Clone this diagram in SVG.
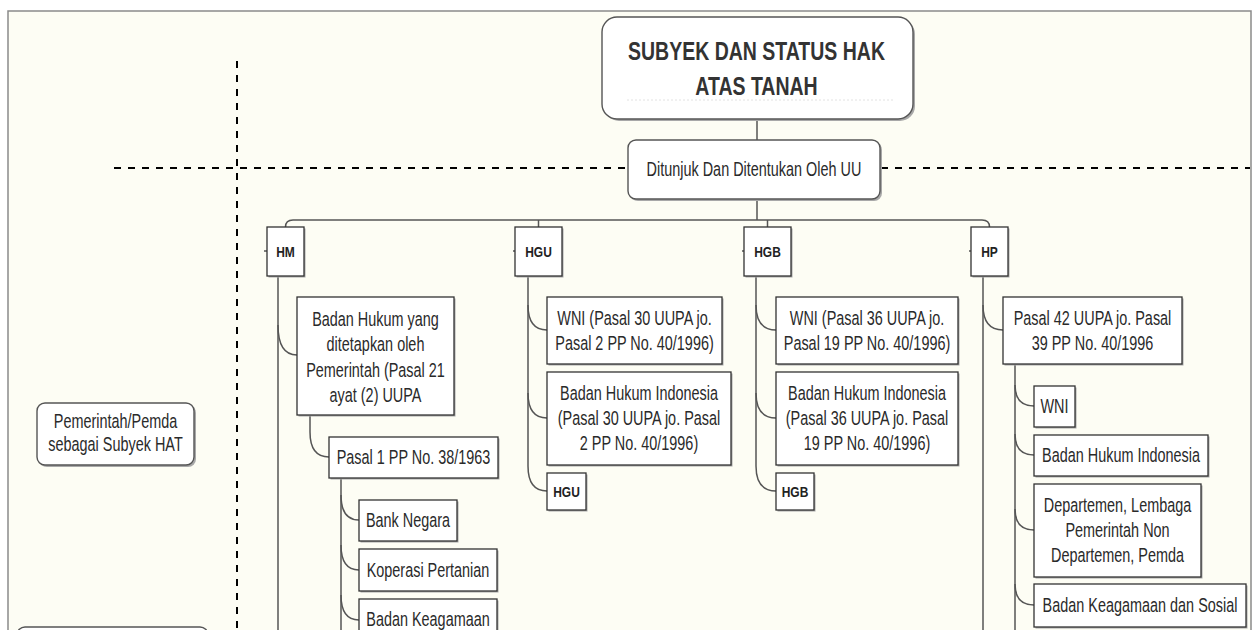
<svg xmlns="http://www.w3.org/2000/svg" width="1256" height="630" viewBox="0 0 1256 630">
<style>
.bg{fill:#FDFDF4;stroke:#8a8a8a;stroke-width:1.5}
.box{fill:#fff;stroke:#333;stroke-width:1.3}
.sh{fill:#a8a8a8;stroke:none}
.rbox{fill:#fff;stroke:#555;stroke-width:1.4}
.c{fill:none;stroke:#555;stroke-width:1.5}
.dash{fill:none;stroke:#000;stroke-width:2;stroke-dasharray:7 7}
.t{font-family:"Liberation Sans",Arial,sans-serif;font-size:19.5px;fill:#2a2a2a;text-anchor:middle}
.b{font-family:"Liberation Sans",Arial,sans-serif;font-size:15px;font-weight:bold;fill:#222;text-anchor:middle}
.h{font-family:"Liberation Sans",Arial,sans-serif;font-size:25px;font-weight:bold;fill:#333;text-anchor:middle}
</style>
<rect x="0" y="0" width="1256" height="630" fill="#fff"/>
<rect class="bg" x="8" y="11" width="1243" height="640"/>

<g id="dashed-lines">
<path class="dash" d="M237 61 V630"/>
<path class="dash" d="M114 168 H628"/>
<path class="dash" d="M881 168 H1250"/>
</g>

<g id="connectors">
<path class="c" d="M757 119 V140"/>
<path class="c" d="M757 199 V220"/>
<path class="c" d="M285.5 227 Q285.5 220 293 220 H982 Q989.5 220 989.5 227"/>
<path class="c" d="M538.5 220 V227"/>
<path class="c" d="M767.5 220 V227"/>
<path class="c" d="M264 251 H267 M513 251 H515 M742 251 H744 M969 251 H971"/>
<path class="c" d="M278 276 V630"/>
<path class="c" d="M278 325 Q278 355 297 355"/>
<path class="c" d="M310 415 V432 Q310 457 329 457"/>
<path class="c" d="M341 478 V630"/>
<path class="c" d="M341 495 Q341 520 359 520"/>
<path class="c" d="M341 545 Q341 570 359 570"/>
<path class="c" d="M341 595 Q341 620 359 620"/>
<path class="c" d="M528 276 V466 Q528 491 547 491"/>
<path class="c" d="M528 305 Q528 330 547 330"/>
<path class="c" d="M528 393 Q528 418 547 418"/>
<path class="c" d="M756 276 V466 Q756 491 776 491"/>
<path class="c" d="M756 305 Q756 330 776 330"/>
<path class="c" d="M756 393 Q756 418 776 418"/>
<path class="c" d="M983 276 V630"/>
<path class="c" d="M983 305 Q983 330 1003 330"/>
<path class="c" d="M1015 364 V630"/>
<path class="c" d="M1015 385 Q1015 406 1034 406"/>
<path class="c" d="M1015 434 Q1015 455 1034 455"/>
<path class="c" d="M1015 509 Q1015 530 1034 530"/>
<path class="c" d="M1015 584 Q1015 605 1034 605"/>
</g>

<g id="title">
<rect class="sh" x="604" y="19" width="311" height="102" rx="15"/>
<rect class="rbox" x="602" y="17" width="311" height="102" rx="15"/>
<path d="M627 100 H893" stroke="#e2e2e2" stroke-width="1" stroke-dasharray="2 2"/>
<text class="h" transform="translate(756.5 0) scale(0.78 1)"><tspan x="0" y="60">SUBYEK DAN STATUS HAK</tspan><tspan x="0" y="95">ATAS TANAH</tspan></text>
</g>

<g id="ditunjuk">
<rect class="sh" x="630" y="142" width="252" height="59" rx="8"/>
<rect class="rbox" x="628" y="140" width="252" height="59" rx="8"/>
<text class="t" transform="translate(754 0) scale(0.74 1)"><tspan x="0" y="176">Ditunjuk Dan Ditentukan Oleh UU</tspan></text>
</g>

<g id="pemerintah">
<rect class="sh" x="39" y="405" width="157" height="62" rx="8"/>
<rect class="rbox" x="37" y="403" width="157" height="62" rx="8"/>
<text class="t" transform="translate(115.5 0) scale(0.74 1)"><tspan x="0" y="428">Pemerintah/Pemda</tspan><tspan x="0" y="451">sebagai Subyek HAT</tspan></text>
</g>

<g id="bottom-left">
<rect class="sh" x="19" y="629" width="191" height="40" rx="8"/>
<rect class="rbox" x="17" y="627" width="191" height="40" rx="8"/>
</g>

<g id="hm">
<rect class="sh" x="268.5" y="228.5" width="37" height="49"/>
<rect class="box" x="267" y="227" width="37" height="49"/>
<text class="b" transform="translate(285.5 0) scale(0.8 1)"><tspan x="0" y="257">HM</tspan></text>
</g>
<g id="hm-badan-hukum">
<rect class="sh" x="298.5" y="298.5" width="157" height="118"/>
<rect class="box" x="297" y="297" width="157" height="118"/>
<text class="t" transform="translate(375.5 0) scale(0.74 1)"><tspan x="0" y="326">Badan Hukum yang</tspan><tspan x="0" y="351">ditetapkan oleh</tspan><tspan x="0" y="377">Pemerintah (Pasal 21</tspan><tspan x="0" y="402">ayat (2) UUPA</tspan></text>
</g>
<g id="hm-pasal1">
<rect class="sh" x="330.5" y="438.5" width="169" height="41"/>
<rect class="box" x="329" y="437" width="169" height="41"/>
<text class="t" transform="translate(413.5 0) scale(0.74 1)"><tspan x="0" y="464">Pasal 1 PP No. 38/1963</tspan></text>
</g>
<g id="hm-bank-negara">
<rect class="sh" x="360.5" y="501.5" width="98" height="41"/>
<rect class="box" x="359" y="500" width="98" height="41"/>
<text class="t" transform="translate(408 0) scale(0.74 1)"><tspan x="0" y="527">Bank Negara</tspan></text>
</g>
<g id="hm-koperasi">
<rect class="sh" x="360.5" y="550.5" width="138" height="42"/>
<rect class="box" x="359" y="549" width="138" height="42"/>
<text class="t" transform="translate(428 0) scale(0.74 1)"><tspan x="0" y="577">Koperasi Pertanian</tspan></text>
</g>
<g id="hm-badan-keagamaan">
<rect class="sh" x="360.5" y="600.5" width="138" height="42"/>
<rect class="box" x="359" y="599" width="138" height="42"/>
<text class="t" transform="translate(428 0) scale(0.74 1)"><tspan x="0" y="626">Badan Keagamaan</tspan></text>
</g>

<g id="hgu">
<rect class="sh" x="516.5" y="228.5" width="47" height="49"/>
<rect class="box" x="515" y="227" width="47" height="49"/>
<text class="b" transform="translate(538.5 0) scale(0.8 1)"><tspan x="0" y="257">HGU</tspan></text>
</g>
<g id="hgu-wni">
<rect class="sh" x="548.5" y="298.5" width="175" height="67"/>
<rect class="box" x="547" y="297" width="175" height="67"/>
<text class="t" transform="translate(634.5 0) scale(0.74 1)"><tspan x="0" y="325">WNI (Pasal 30 UUPA jo.</tspan><tspan x="0" y="350">Pasal 2 PP No. 40/1996)</tspan></text>
</g>
<g id="hgu-badan-hukum">
<rect class="sh" x="548.5" y="373.5" width="184" height="93"/>
<rect class="box" x="547" y="372" width="184" height="93"/>
<text class="t" transform="translate(639 0) scale(0.74 1)"><tspan x="0" y="400">Badan Hukum Indonesia</tspan><tspan x="0" y="425">(Pasal 30 UUPA jo. Pasal</tspan><tspan x="0" y="450">2 PP No. 40/1996)</tspan></text>
</g>
<g id="hgu-small">
<rect class="sh" x="548.5" y="474.5" width="39" height="37"/>
<rect class="box" x="547" y="473" width="39" height="37"/>
<text class="b" transform="translate(566.5 0) scale(0.8 1)"><tspan x="0" y="497">HGU</tspan></text>
</g>

<g id="hgb">
<rect class="sh" x="745.5" y="228.5" width="47" height="49"/>
<rect class="box" x="744" y="227" width="47" height="49"/>
<text class="b" transform="translate(767.5 0) scale(0.8 1)"><tspan x="0" y="257">HGB</tspan></text>
</g>
<g id="hgb-wni">
<rect class="sh" x="777.5" y="298.5" width="182" height="67"/>
<rect class="box" x="776" y="297" width="182" height="67"/>
<text class="t" transform="translate(867 0) scale(0.74 1)"><tspan x="0" y="325">WNI (Pasal 36 UUPA jo.</tspan><tspan x="0" y="350">Pasal 19 PP No. 40/1996)</tspan></text>
</g>
<g id="hgb-badan-hukum">
<rect class="sh" x="777.5" y="373.5" width="182" height="93"/>
<rect class="box" x="776" y="372" width="182" height="93"/>
<text class="t" transform="translate(867 0) scale(0.74 1)"><tspan x="0" y="400">Badan Hukum Indonesia</tspan><tspan x="0" y="425">(Pasal 36 UUPA jo. Pasal</tspan><tspan x="0" y="450">19 PP No. 40/1996)</tspan></text>
</g>
<g id="hgb-small">
<rect class="sh" x="777.5" y="474.5" width="38" height="37"/>
<rect class="box" x="776" y="473" width="38" height="37"/>
<text class="b" transform="translate(795 0) scale(0.8 1)"><tspan x="0" y="497">HGB</tspan></text>
</g>

<g id="hp">
<rect class="sh" x="972.5" y="228.5" width="37" height="49"/>
<rect class="box" x="971" y="227" width="37" height="49"/>
<text class="b" transform="translate(989.5 0) scale(0.8 1)"><tspan x="0" y="257">HP</tspan></text>
</g>
<g id="hp-pasal42">
<rect class="sh" x="1004.5" y="298.5" width="179" height="67"/>
<rect class="box" x="1003" y="297" width="179" height="67"/>
<text class="t" transform="translate(1092.5 0) scale(0.74 1)"><tspan x="0" y="325">Pasal 42 UUPA jo. Pasal</tspan><tspan x="0" y="350">39 PP No. 40/1996</tspan></text>
</g>
<g id="hp-wni">
<rect class="sh" x="1035.5" y="387.5" width="41" height="41"/>
<rect class="box" x="1034" y="386" width="41" height="41"/>
<text class="t" transform="translate(1054.5 0) scale(0.74 1)"><tspan x="0" y="413">WNI</tspan></text>
</g>
<g id="hp-badan-hukum">
<rect class="sh" x="1035.5" y="436.5" width="174" height="41"/>
<rect class="box" x="1034" y="435" width="174" height="41"/>
<text class="t" transform="translate(1121 0) scale(0.74 1)"><tspan x="0" y="462">Badan Hukum Indonesia</tspan></text>
</g>
<g id="hp-departemen">
<rect class="sh" x="1035.5" y="485.5" width="167" height="93"/>
<rect class="box" x="1034" y="484" width="167" height="93"/>
<text class="t" transform="translate(1117.5 0) scale(0.74 1)"><tspan x="0" y="512">Departemen, Lembaga</tspan><tspan x="0" y="537">Pemerintah Non</tspan><tspan x="0" y="562">Departemen, Pemda</tspan></text>
</g>
<g id="hp-badan-keagamaan">
<rect class="sh" x="1035.5" y="585.5" width="212" height="43"/>
<rect class="box" x="1034" y="584" width="212" height="43"/>
<text class="t" transform="translate(1140 0) scale(0.74 1)"><tspan x="0" y="612">Badan Keagamaan dan Sosial</tspan></text>
</g>
</svg>
